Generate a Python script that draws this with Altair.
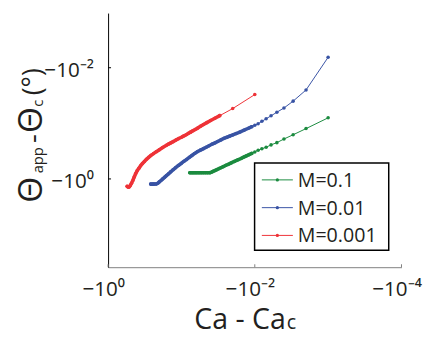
import altair as alt
import pandas as pd

# ---- data (Ca - Ca_c, theta_app - theta_c), both negative ----
series = ["M=0.1", "M=0.01", "M=0.001"]
colors = ["#1B8B3F", "#3853A4", "#EE3237"]

ca_m01 = [-0.077, -0.074, -0.071, -0.068, -0.065, -0.062, -0.059, -0.056, -0.053, -0.050,
          -0.047, -0.044, -0.041, -0.039, -0.037, -0.035, -0.033, -0.031, -0.029, -0.027,
          -0.025, -0.023, -0.021, -0.019, -0.017, -0.015, -0.014, -0.013, -0.012, -0.011,
          -0.010, -0.009, -0.008, -0.007, -0.006, -0.005, -0.004, -0.003, -0.002, -0.001]
th_m01 = [-0.774, -0.774, -0.774, -0.774, -0.774, -0.774, -0.774, -0.774, -0.774, -0.774,
          -0.774, -0.774, -0.774, -0.7553, -0.7313, -0.7079, -0.6824, -0.6553, -0.6291, -0.6017,
          -0.5731, -0.5458, -0.5157, -0.4852, -0.4528, -0.4209, -0.4024, -0.3848, -0.3665, -0.3477,
          -0.3271, -0.3041, -0.2872, -0.2692, -0.2442, -0.2224, -0.1913, -0.1606, -0.1244, -0.0796]

ca_m001 = [-0.263, -0.25, -0.24, -0.23, -0.22, -0.21, -0.20, -0.19, -0.18, -0.17,
           -0.16, -0.15, -0.14, -0.13, -0.12, -0.11, -0.10, -0.092, -0.085, -0.078,
           -0.072, -0.066, -0.060, -0.055, -0.050, -0.046, -0.042, -0.038, -0.035, -0.032,
           -0.029, -0.026, -0.024, -0.022, -0.020, -0.018, -0.016, -0.014, -0.012, -0.011,
           -0.010, -0.009, -0.008, -0.007, -0.006, -0.005, -0.004, -0.003, -0.002, -0.001]
th_m001 = [-1.240, -1.240, -1.240, -1.235, -1.230, -1.196, -1.129, -1.067, -1.000, -0.937,
           -0.871, -0.810, -0.746, -0.685, -0.629, -0.573, -0.522, -0.479, -0.446, -0.409,
           -0.379, -0.348, -0.321, -0.303, -0.285, -0.269, -0.253, -0.236, -0.225, -0.212,
           -0.199, -0.185, -0.178, -0.170, -0.162, -0.153, -0.1435, -0.1328, -0.1214, -0.1151,
           -0.1084, -0.1015, -0.0921, -0.0828, -0.0733, -0.0631, -0.0530, -0.0399, -0.0251, -0.00649]

ca_m0001 = [-0.55, -0.54, -0.53, -0.52, -0.51, -0.50, -0.48, -0.46, -0.44, -0.42,
            -0.40, -0.38, -0.36, -0.34, -0.32, -0.30, -0.28, -0.26, -0.24, -0.22,
            -0.20, -0.18, -0.16, -0.15, -0.14, -0.13, -0.12, -0.11, -0.10, -0.095,
            -0.09, -0.085, -0.08, -0.075, -0.07, -0.065, -0.06, -0.055, -0.05, -0.045,
            -0.04, -0.035, -0.03, -0.02, -0.01]
th_m0001 = [-1.356, -1.384, -1.401, -1.401, -1.373, -1.318, -1.200, -1.063, -0.922, -0.800,
            -0.708, -0.640, -0.578, -0.528, -0.485, -0.444, -0.409, -0.377, -0.3505, -0.3231,
            -0.2979, -0.2724, -0.2481, -0.2363, -0.2251, -0.2136, -0.2009, -0.1890, -0.1778, -0.1715,
            -0.1653, -0.1587, -0.1512, -0.1440, -0.1365, -0.1295, -0.1219, -0.1133, -0.1049, -0.0971,
            -0.0891, -0.0812, -0.0727, -0.0543, -0.0304]

x_ticks = [-1, -0.01, -0.0001]
y_ticks = [-1, -0.01]

rows = []
for name, cas, ths in [("M=0.1", ca_m01, th_m01), ("M=0.01", ca_m001, th_m001),
                       ("M=0.001", ca_m0001, th_m0001)]:
    for c, t in zip(cas, ths):
        rows.append({"series": name, "ca": c, "th": t})
df = pd.DataFrame(rows)

FONT = "Open Sans"
TXT = "#231F20"
W, H = 299, 259

xscale = alt.Scale(type="log", domain=[-1, -0.0001], nice=False, zero=False)
yscale = alt.Scale(type="log", domain=[-38.7, -0.00104], nice=False, zero=False)
cscale = alt.Scale(domain=series, range=colors)

xaxis = alt.Axis(values=x_ticks, title=None, grid=False, ticks=False, tickSize=0,
                 domainColor="#808080", domainWidth=1,
                 labelExpr="datum.value > -0.001 ? '−10⁻⁴' : (datum.value > -0.1 ? '−10⁻²' : '−10⁰')",
                 labelFont=FONT, labelFontSize=21, labelColor=TXT, labelPadding=29,
                 labelBaseline="alphabetic", labelAlign="center", labelOffset=-5,
                 labelFlush=False, labelOverlap=False)
yaxis = alt.Axis(values=y_ticks, title=None, grid=False, ticks=False, tickSize=0,
                 domainColor="#000000", domainWidth=1,
                 labelExpr="datum.value > -0.1 ? '−10⁻²' : '−10⁰'",
                 labelFont=FONT, labelFontSize=21, labelColor=TXT, labelPadding=15,
                 labelBaseline="middle", labelOffset=3, labelFlush=False, labelOverlap=False)

color = alt.Color("series:N", scale=cscale, legend=None)
base = alt.Chart(df)
lines = base.mark_line(strokeWidth=1).encode(
    x=alt.X("ca:Q", scale=xscale, axis=xaxis),
    y=alt.Y("th:Q", scale=yscale, axis=yaxis),
    color=color,
)
# the densely sampled stretch of each run, where the markers merge into a thick band
dense = base.transform_filter(
    "(datum.series == 'M=0.001' && datum.ca <= -0.03) || (datum.series != 'M=0.001' && datum.ca <= -0.0105)"
).mark_line(strokeWidth=3.6, strokeCap="round", strokeJoin="round").encode(
    x=alt.X("ca:Q", scale=xscale),
    y=alt.Y("th:Q", scale=yscale),
    color=color,
)
points = base.mark_circle(size=13, opacity=1).encode(
    x=alt.X("ca:Q", scale=xscale),
    y=alt.Y("th:Q", scale=yscale),
    color=color,
)

xt = alt.Chart(pd.DataFrame({"v": x_ticks})).mark_rule(color="#808080", strokeWidth=1).encode(
    x=alt.X("v:Q", scale=xscale), y=alt.value(H), y2=alt.value(H - 3))
yt = alt.Chart(pd.DataFrame({"v": y_ticks})).mark_rule(color="#000000", strokeWidth=1).encode(
    y=alt.Y("v:Q", scale=yscale), x=alt.value(0), x2=alt.value(3))

one = pd.DataFrame({"a": [0]})
layers = [lines, dense, points, xt, yt]

# legend box
layers.append(alt.Chart(one).mark_rect(fill="white", stroke="black", strokeWidth=1.5).encode(
    x=alt.value(149.3), x2=alt.value(286), y=alt.value(152.7), y2=alt.value(241.7)))
for i, (name, col) in enumerate(zip(series, colors)):
    yy = 170 + i * 28.3
    layers.append(alt.Chart(one).mark_rule(color=col, strokeWidth=1).encode(
        x=alt.value(156.7), x2=alt.value(188.3), y=alt.value(yy)))
    layers.append(alt.Chart(one).mark_circle(color=col, size=11, opacity=1).encode(
        x=alt.value(172.5), y=alt.value(yy)))
    layers.append(alt.Chart(pd.DataFrame({"label": [name]})).mark_text(
        font=FONT, fontSize=20, color=TXT, align="left", baseline="middle").encode(
        text="label:N", x=alt.value(193.3), y=alt.value(yy + 1)))

# x-axis title: "Ca - Ca" with subscript c
layers.append(alt.Chart(pd.DataFrame({"t": ["Ca - Ca"]})).mark_text(
    font=FONT, fontSize=29, color=TXT, align="right", baseline="alphabetic").encode(
    text="t:N", x=alt.value(181), y=alt.value(321.7)))
layers.append(alt.Chart(pd.DataFrame({"t": ["c"]})).mark_text(
    font=FONT, fontSize=20, color=TXT, align="left", baseline="alphabetic").encode(
    text="t:N", x=alt.value(182), y=alt.value(321.7)))

# y-axis title: Θapp - Θc (°), rotated
ypieces = [("Θ", 34, 190, -67), ("app", 15, 160, -66), ("-", 28, 138, -67),
           ("Θ", 34, 119, -67), ("c", 15, 102, -66), ("(°)", 27, 80, -67)]
for t, fs, yc, xb in ypieces:
    layers.append(alt.Chart(pd.DataFrame({"t": [t]})).mark_text(
        font=FONT, fontSize=fs, color=TXT, align="center", baseline="alphabetic", angle=270).encode(
        text="t:N", x=alt.value(xb), y=alt.value(yc - 10)))

chart = alt.layer(*layers).properties(
    width=W, height=H,
    autosize=alt.AutoSizeParams(type="none"),
    padding={"left": 102, "top": 2, "right": 26, "bottom": 70},
    background="white",
).configure_view(stroke=None)

chart.save("out.html", embed_options={"renderer": "svg", "actions": False})
